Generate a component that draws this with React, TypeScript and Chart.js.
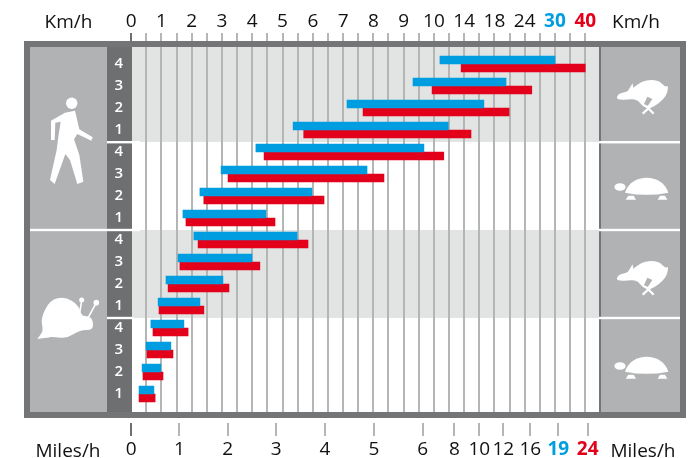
import React, { useEffect, useRef } from "react";
import { Chart, registerables } from "chart.js";

Chart.register(...registerables);

const rowLabels = ["4", "3", "2", "1", "4", "3", "2", "1", "4", "3", "2", "1", "4", "3", "2", "1"];
const blueLow = [10.8, 9.31, 7.13, 5.35, 4.12, 2.97, 2.27, 1.71, 2.07, 1.55, 1.15, 0.89, 0.65, 0.49, 0.36, 0.26];
const blueHigh = [30, 20.3, 16.6, 11.9, 9.67, 7.79, 5.97, 4.45, 5.48, 3.99, 3.03, 2.27, 1.74, 1.31, 0.98, 0.75];
const redLow = [13.6, 9.94, 7.66, 5.7, 4.39, 3.2, 2.4, 1.81, 2.21, 1.61, 1.22, 0.92, 0.72, 0.52, 0.39, 0.26];
const redHigh = [40, 25.4, 20.9, 14.9, 11.3, 8.35, 6.37, 4.75, 5.84, 4.25, 3.23, 2.4, 1.88, 1.38, 1.05, 0.79];
const kmTicks = [0, 1, 2, 3, 4, 5, 6, 7, 8, 9, 10, 14, 18, 24, 30, 40];
const mileLabels = ["0", "1", "2", "3", "4", "5", "6", "8", "10", "12", "16", "19", "24"];
const mileAsKm = [0, 1.59, 3.19, 4.79, 6.4, 8.02, 9.63, 12.7, 16, 19.75, 25.1, 31.1, 40.8];

const BLUE = "#009ee0";
const RED = "#e2001a";
const FRAME = "#747577";
const PANEL = "#b1b2b4";
const COLUMN = "#6e6f71";
const BAND = "#e2e3e3";
const GRID = "#b4b5b5";
const FONT = "'Open Sans', sans-serif";

// The km/h axis is evenly spaced by tick, not by value.
function toPos(km: number): number {
  for (let i = 0; i < kmTicks.length - 2; i++) {
    if (km <= kmTicks[i + 1]) return i + (km - kmTicks[i]) / (kmTicks[i + 1] - kmTicks[i]);
  }
  const n = kmTicks.length - 2;
  return n + (km - kmTicks[n]) / (kmTicks[n + 1] - kmTicks[n]);
}

function smooth(ctx: CanvasRenderingContext2D, pts: number[][], ox: number, oy: number, s: number) {
  const P = pts.map(([x, y]) => [ox + x / s, oy + y / s]);
  ctx.beginPath();
  const n = P.length;
  ctx.moveTo((P[n - 1][0] + P[0][0]) / 2, (P[n - 1][1] + P[0][1]) / 2);
  for (let i = 0; i < n; i++) {
    const q = P[(i + 1) % n];
    ctx.quadraticCurveTo(P[i][0], P[i][1], (P[i][0] + q[0]) / 2, (P[i][1] + q[1]) / 2);
  }
  ctx.closePath();
  ctx.fill();
}

function poly(ctx: CanvasRenderingContext2D, pts: number[][], ox: number, oy: number, s: number) {
  ctx.beginPath();
  pts.forEach(([x, y], i) => (i ? ctx.lineTo(ox + x / s, oy + y / s) : ctx.moveTo(ox + x / s, oy + y / s)));
  ctx.closePath();
  ctx.fill();
}

function walker(ctx: CanvasRenderingContext2D) {
  ctx.fillStyle = "#fff";
  ctx.beginPath();
  ctx.arc(71.7, 103.3, 5.7, 0, Math.PI * 2);
  ctx.fill();
  poly(ctx, [[165, 92], [178, 148], [218, 172], [214, 182], [172, 162], [162, 178], [178, 225], [190, 305], [172, 312], [150, 240], [136, 222], [104, 312], [90, 300], [110, 210], [115, 170], [122, 125], [106, 128], [104, 180], [93, 180], [93, 122], [135, 98]], 20, 80, 3);
}

function snail(ctx: CanvasRenderingContext2D) {
  ctx.fillStyle = "#fff";
  smooth(ctx, [[70, 150], [62, 115], [90, 60], [135, 50], [175, 75], [185, 108], [205, 108], [218, 118], [220, 150], [180, 150], [140, 176], [100, 170], [58, 174]], 20, 280, 3);
  poly(ctx, [[52, 177], [75, 145], [90, 172]], 20, 280, 3);
  ctx.strokeStyle = "#fff";
  ctx.lineWidth = 1.6;
  ctx.beginPath();
  ctx.moveTo(20 + 178 / 3, 280 + 105 / 3);
  ctx.lineTo(20 + 185 / 3, 280 + 62 / 3);
  ctx.moveTo(20 + 205 / 3, 280 + 112 / 3);
  ctx.lineTo(20 + 229 / 3, 280 + 68 / 3);
  ctx.stroke();
  ctx.beginPath();
  ctx.arc(20 + 185 / 3, 280 + 60 / 3, 2.5, 0, Math.PI * 2);
  ctx.fill();
  ctx.beginPath();
  ctx.arc(20 + 229 / 3, 280 + 68 / 3, 2.8, 0, Math.PI * 2);
  ctx.fill();
}

function rabbit(ctx: CanvasRenderingContext2D, dy: number) {
  ctx.fillStyle = "#fff";
  smooth(ctx, [[812, 297], [822, 280], [850, 275], [875, 255], [900, 240], [940, 240], [962, 262], [970, 255], [966, 285], [940, 312], [915, 326], [895, 322], [875, 296], [840, 300]], 345, dy, 3);
  poly(ctx, [[845, 278], [863, 250], [866, 272]], 345, dy, 3);
  ctx.fillStyle = PANEL;
  poly(ctx, [[897, 312], [907, 290], [922, 297], [908, 318]], 345, dy, 3);
  ctx.strokeStyle = "#fff";
  ctx.lineWidth = 2.2;
  ctx.beginPath();
  ctx.moveTo(345 + 893 / 3, dy + 341 / 3);
  ctx.lineTo(345 + 925 / 3, dy + 312 / 3);
  ctx.moveTo(345 + 903 / 3, dy + 318 / 3);
  ctx.lineTo(345 + 926 / 3, dy + 341 / 3);
  ctx.stroke();
}

function turtle(ctx: CanvasRenderingContext2D, dy: number) {
  ctx.fillStyle = "#fff";
  const ox = 345;
  ctx.beginPath();
  ctx.moveTo(ox + 840 / 3, dy + 215 / 3);
  ctx.bezierCurveTo(ox + 858 / 3, dy + 155 / 3, ox + 952 / 3, dy + 155 / 3, ox + 970 / 3, dy + 215 / 3);
  ctx.quadraticCurveTo(ox + 905 / 3, dy + 228 / 3, ox + 840 / 3, dy + 215 / 3);
  ctx.fill();
  ctx.beginPath();
  ctx.ellipse(ox + 825 / 3, dy + 198 / 3, 5.6, 3.8, 0, 0, Math.PI * 2);
  ctx.fill();
  poly(ctx, [[842, 236], [850, 224], [866, 224], [873, 236]], ox, dy, 3);
  poly(ctx, [[938, 236], [945, 224], [960, 224], [967, 236]], ox, dy, 3);
}

const dressing = {
  id: "dressing",
  beforeDraw(chart: any) {
    const c: CanvasRenderingContext2D = chart.ctx;
    c.save();
    c.fillStyle = "#fff";
    c.fillRect(0, 0, 695, 458);
    c.fillStyle = BAND;
    c.fillRect(132, 47, 467, 95);
    c.fillRect(132, 230, 467, 88);
    c.restore();
  },
  beforeDatasetsDraw(chart: any) {
    const c: CanvasRenderingContext2D = chart.ctx;
    c.save();
    c.fillStyle = "#fff";
    c.fillRect(0, 418, 695, 5);
    c.fillStyle = FRAME;
    c.fillRect(24, 41, 662, 6);
    c.fillRect(24, 412, 662, 6);
    c.fillRect(24, 41, 6, 377);
    c.fillRect(680, 41, 6, 377);
    c.fillRect(599, 47, 2, 365);
    c.fillStyle = PANEL;
    c.fillRect(30, 47, 77, 365);
    c.fillRect(601, 47, 79, 365);
    c.fillStyle = COLUMN;
    c.fillRect(107, 47, 25, 365);
    c.fillStyle = "#fff";
    c.fillRect(107, 141, 33, 2.4);
    c.fillRect(30, 228.8, 110, 2.4);
    c.fillRect(107, 316.8, 26, 2.4);
    c.fillRect(599, 141, 81, 2.4);
    c.fillRect(599, 228.8, 81, 2.4);
    c.fillRect(599, 316.8, 81, 2.4);
    walker(c);
    snail(c);
    rabbit(c, 0);
    turtle(c, 121);
    rabbit(c, 181);
    turtle(c, 300);
    c.restore();
  },
  afterDraw(chart: any) {
    const c: CanvasRenderingContext2D = chart.ctx;
    c.save();
    c.fillStyle = "#111";
    c.font = `19px ${FONT}`;
    c.textAlign = "center";
    c.textBaseline = "alphabetic";
    c.fillText("Km/h", 68.5, 28);
    c.fillText("Km/h", 636, 28);
    c.fillText("Miles/h", 68, 456.5);
    c.fillText("Miles/h", 643, 456.5);
    c.restore();
  },
};

const xMax = (599 - 131.2) / 30.27;
const rowStep = 22;

export default function App() {
  const ref = useRef<HTMLCanvasElement>(null);
  useEffect(() => {
    const chart = new Chart(ref.current as HTMLCanvasElement, {
      type: "bar",
      plugins: [dressing],
      data: {
        labels: rowLabels,
        datasets: [
          {
            label: "Blue",
            backgroundColor: BLUE,
            barThickness: 8,
            data: rowLabels.map((_, i) => ({ x: [toPos(blueLow[i]), toPos(blueHigh[i])], y: i })),
          },
          {
            label: "Red",
            backgroundColor: RED,
            barThickness: 8,
            data: rowLabels.map((_, i) => ({ x: [toPos(redLow[i]), toPos(redHigh[i])], y: i })),
          },
        ] as any,
      },
      options: {
        indexAxis: "y",
        animation: false,
        responsive: false,
        devicePixelRatio: 1,
        layout: { padding: { left: 106.2, right: 96, top: 0, bottom: 0 } },
        plugins: { legend: { display: false }, tooltip: { enabled: false } },
        scales: {
          x: {
            type: "linear",
            position: "top",
            min: 0,
            max: xMax,
            afterFit: (s: any) => {
              s.height = 47;
            },
            afterBuildTicks: (s: any) => {
              s.ticks = Array.from({ length: 31 }, (_, i) => ({ value: i / 2 }));
            },
            border: { display: false },
            grid: {
              color: (ctx: any) => (ctx.index === 0 ? COLUMN : GRID),
              lineWidth: 2,
              tickLength: 14,
            },
            ticks: {
              autoSkip: false,
              maxRotation: 0,
              padding: 0,
              callback: (v: any) => (Number.isInteger(v) ? String(kmTicks[v]) : ""),
              color: (ctx: any) => (ctx.index === 28 ? BLUE : ctx.index === 30 ? RED : "#111"),
              font: (ctx: any) => ({
                family: FONT,
                size: 19,
                weight: ctx.index >= 28 ? "bold" : "normal",
              }),
            },
          },
          x2: {
            type: "linear",
            position: "bottom",
            min: 0,
            max: xMax,
            afterFit: (s: any) => {
              s.height = 46;
            },
            afterBuildTicks: (s: any) => {
              s.ticks = mileAsKm.map((k) => ({ value: toPos(k) }));
            },
            border: { display: false },
            grid: {
              drawOnChartArea: false,
              color: (ctx: any) => (ctx.index === 0 ? COLUMN : GRID),
              lineWidth: 2,
              tickLength: 24,
            },
            ticks: {
              autoSkip: false,
              maxRotation: 0,
              padding: 2,
              callback: (_v: any, i: number) => mileLabels[i],
              color: (ctx: any) => (ctx.index === 11 ? BLUE : ctx.index === 12 ? RED : "#111"),
              font: (ctx: any) => ({
                family: FONT,
                size: 19,
                weight: ctx.index >= 11 ? "bold" : "normal",
              }),
            },
          },
          y: {
            type: "linear",
            position: "left",
            reverse: true,
            offset: false,
            min: -17 / rowStep,
            max: (412 - 64) / rowStep,
            afterFit: (s: any) => {
              s.width = 25;
            },
            afterBuildTicks: (s: any) => {
              s.ticks = rowLabels.map((_, i) => ({ value: i }));
            },
            border: { display: false },
            grid: { display: false },
            ticks: {
              z: 1,
              autoSkip: false,
              padding: 0,
              crossAlign: "center",
              color: "#fff",
              font: { family: FONT, size: 15, weight: "600" },
              callback: (_v: any, i: number) => rowLabels[i],
            },
          },
        },
      } as any,
    });
    return () => chart.destroy();
  }, []);
  return (
    <canvas
      ref={ref}
      width={695}
      height={458}
      style={{ position: "absolute", left: 0, top: 0, width: 695, height: 458 }}
    />
  );
}
